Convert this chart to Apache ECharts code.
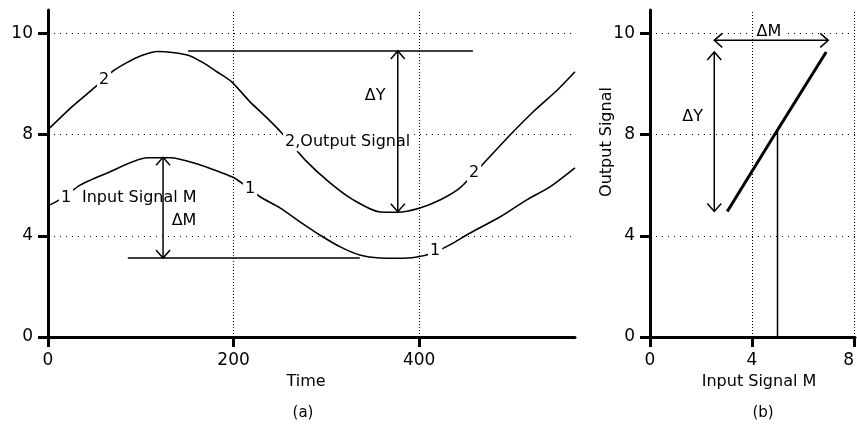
<!DOCTYPE html>
<html>
<head>
<meta charset="utf-8">
<title>Input and output signal</title>
<script src="https://cdn.jsdelivr.net/npm/echarts@6.0.0/dist/echarts.min.js"></script>
<style>
  html, body { margin: 0; padding: 0; background: #fff; }
  #chart { width: 857px; height: 426px; }
</style>
</head>
<body>
<div id="chart"></div>
<script>
// (a) signals over time
const timeIn = [2, 16, 35, 64, 107, 132, 164, 185, 200, 209, 229, 250, 272, 293, 315, 336, 358, 377, 396, 415, 433, 455, 487, 516, 541, 568];
const inputSignal = [5.22, 5.5, 6.01, 6.48, 7.08, 7.08, 6.8, 6.52, 6.3, 6.08, 5.53, 5.1, 4.54, 4.03, 3.56, 3.24, 3.12, 3.11, 3.15, 3.32, 3.64, 4.11, 4.74, 5.42, 5.93, 6.68];
const timeOut = [2, 26, 51, 69, 85, 101, 118, 150, 167, 182, 198, 218, 236, 252, 277, 304, 329, 358, 377, 401, 423, 444, 468, 498, 523, 549, 568];
const outputSignal = [8.13, 8.55, 8.94, 9.24, 9.42, 9.56, 9.64, 9.57, 9.42, 9.24, 9.04, 8.64, 8.33, 8.03, 7.0, 6.09, 5.42, 4.94, 4.93, 5.1, 5.42, 5.89, 6.8, 7.98, 8.45, 8.88, 9.24];

// (b) output against input
const inputB = [3.03, 4.89, 6.91];
const outputB = [4.96, 8.0, 9.63];
const operatingM = [5, 5];
const operatingY = [0, 8.09];

const xTicksA = [0, 200, 400];
const xTicksB = [0, 4, 8];
const yTicks = [0, 4, 8, 10];

// annotations: [x1, y1, x2, y2]
const refLinesA = [[151, 9.65, 458, 9.65], [86, 3.12, 336, 3.12]];
const arrowsA = [[377, 9.65, 377, 4.95], [124, 7.1, 124, 3.12]];
const arrowsB = [[2.52, 9.86, 6.99, 9.86], [2.52, 9.63, 2.52, 4.96]];
// text notes: [x, y, text, align]
const notesA = [
  [352.6, 8.76, 'ΔY', 'center'],
  [146.6, 4.58, 'ΔM', 'center'],
  [19.4, 5.51, '1', 'center'],
  [34.5, 5.51, 'Input Signal M', 'left'],
  [60.4, 9.08, '2', 'center'],
  [217.8, 5.85, '1', 'center'],
  [253.4, 7.73, '2,Output Signal', 'left'],
  [459.3, 6.5, '2', 'center'],
  [417.3, 3.4, '1', 'center']
];
const notesB = [
  [4.66, 10.03, 'ΔM', 'center'],
  [1.67, 8.35, 'ΔY', 'center']
];

const FONT = '"DejaVu Sans", sans-serif';

// the printed y ticks 0,4,8,10 are evenly spaced, so map values piecewise
function toAxis(v) {
  for (let i = 1; i < yTicks.length; i++) {
    if (v <= yTicks[i] || i === yTicks.length - 1) {
      return i - 1 + (v - yTicks[i - 1]) / (yTicks[i] - yTicks[i - 1]);
    }
  }
}
const yTickPos = yTicks.map(toAxis);

function axis(gridIndex, min, max, ticks, fmt, labelExtra, extra) {
  return Object.assign({
    type: 'value',
    gridIndex: gridIndex,
    min: min,
    max: max,
    axisLine: { onZero: false, lineStyle: { color: '#000', width: 3 } },
    axisTick: { customValues: ticks, length: 10, lineStyle: { color: '#000', width: 3 } },
    axisLabel: Object.assign({
      customValues: ticks, formatter: fmt, color: '#000',
      fontFamily: FONT, fontSize: 17, margin: 15
    }, labelExtra),
    splitLine: { show: false }
  }, extra);
}

const yFmt = function (v) {
  for (let i = 0; i < yTickPos.length; i++) {
    if (Math.abs(yTickPos[i] - v) < 1e-6) return String(yTicks[i]);
  }
  return '';
};

function gridLines(idx, xs, ys) {
  const dotted = function (dash) { return { type: dash, color: '#000', width: 1 }; };
  return {
    type: 'line', xAxisIndex: idx, yAxisIndex: idx, data: [], silent: true,
    markLine: {
      silent: true, z: 1, symbol: ['none', 'none'], label: { show: false }, animation: false,
      data: xs.map(x => ({ xAxis: x, lineStyle: dotted([1, 2]) }))
        .concat(ys.map(y => ({ yAxis: toAxis(y), lineStyle: dotted([1, 5]) })))
    }
  };
}

function line(idx, xs, ys, width, smooth) {
  return {
    type: 'line', xAxisIndex: idx, yAxisIndex: idx, z: 2,
    data: xs.map((x, i) => [x, toAxis(ys[i])]),
    smooth: smooth || false, symbol: 'none', silent: true,
    lineStyle: { color: '#000', width: width }
  };
}

function renderArrow(params, api) {
  const p1 = api.coord([api.value(0), api.value(1)]);
  const p2 = api.coord([api.value(2), api.value(3)]);
  const len = Math.hypot(p2[0] - p1[0], p2[1] - p1[1]);
  const ux = (p2[0] - p1[0]) / len, uy = (p2[1] - p1[1]) / len;
  const h = 8, w = 7;
  const head = function (tip, dx, dy) {
    const bx = tip[0] + dx * h, by = tip[1] + dy * h;
    return [[bx - dy * w, by + dx * w], tip, [bx + dy * w, by - dx * w]];
  };
  const st = { stroke: '#000', fill: null, lineWidth: 1.5 };
  return {
    type: 'group',
    children: [
      { type: 'line', shape: { x1: p1[0], y1: p1[1], x2: p2[0], y2: p2[1] }, style: st },
      { type: 'polyline', shape: { points: head(p1, ux, uy) }, style: st },
      { type: 'polyline', shape: { points: head(p2, -ux, -uy) }, style: st }
    ]
  };
}

function arrows(idx, list) {
  return {
    type: 'custom', xAxisIndex: idx, yAxisIndex: idx, z: 4, silent: true,
    renderItem: renderArrow,
    encode: { x: [0, 2], y: [1, 3] },
    data: list.map(a => [a[0], toAxis(a[1]), a[2], toAxis(a[3])])
  };
}

function notes(idx, list) {
  return {
    type: 'custom', xAxisIndex: idx, yAxisIndex: idx, z: 3, silent: true,
    renderItem: function (params, api) {
      const n = list[params.dataIndex];
      const p = api.coord([api.value(0), api.value(1)]);
      return {
        type: 'text', x: p[0], y: p[1],
        style: {
          text: n[2], align: n[3], textAlign: n[3], verticalAlign: 'middle',
          font: '16px ' + FONT, fill: '#000', backgroundColor: '#fff', padding: [2, 2]
        }
      };
    },
    data: list.map(n => [n[0], toAxis(n[1])])
  };
}

const nameStyle = function (pad) {
  return { color: '#000', fontFamily: FONT, fontSize: 16, padding: pad };
};

const chart = echarts.init(document.getElementById('chart'));
chart.setOption({
  animation: false,
  backgroundColor: '#fff',
  grid: [
    { left: 48, top: 10, width: 527, height: 327 },
    { left: 650, top: 10, width: 207, height: 327 }
  ],
  xAxis: [
    axis(0, 0, 568, xTicksA, v => String(v), {}, {
      interval: 200, name: 'Time', nameLocation: 'middle', nameGap: 31,
      nameTextStyle: nameStyle([0, 11, 0, 0])
    }),
    axis(1, 0, 8.04, xTicksB, v => String(v), { alignMaxLabel: 'right' }, {
      interval: 4, name: 'Input Signal M', nameLocation: 'middle', nameGap: 31,
      nameTextStyle: nameStyle([0, 0, 0, 13])
    })
  ],
  yAxis: [
    axis(0, 0, 3.23, yTickPos, yFmt, {}, { interval: 1 }),
    axis(1, 0, 3.23, yTickPos, yFmt, {}, { interval: 1 })
  ],
  graphic: [
    { type: 'text', x: 303, y: 413, style: { text: '(a)', align: 'center', textAlign: 'center', verticalAlign: 'middle', font: '15px ' + FONT, fill: '#000' } },
    { type: 'text', x: 763, y: 413, style: { text: '(b)', align: 'center', textAlign: 'center', verticalAlign: 'middle', font: '15px ' + FONT, fill: '#000' } },
    { type: 'text', x: 607, y: 142, rotation: Math.PI / 2, style: { text: 'Output Signal', align: 'center', textAlign: 'center', verticalAlign: 'middle', font: '16px ' + FONT, fill: '#000' } }
  ],
  series: [
    gridLines(0, [200, 400], [4, 8, 10]),
    gridLines(1, [4, 8], [4, 8, 10]),
    line(0, timeIn, inputSignal, 1.6, 0.25),
    line(0, timeOut, outputSignal, 1.6, 0.25),
    line(0, [refLinesA[0][0], refLinesA[0][2]], [refLinesA[0][1], refLinesA[0][3]], 1.5),
    line(0, [refLinesA[1][0], refLinesA[1][2]], [refLinesA[1][1], refLinesA[1][3]], 1.5),
    line(1, inputB, outputB, 3),
    line(1, operatingM, operatingY, 1.5),
    notes(0, notesA),
    notes(1, notesB),
    arrows(0, arrowsA),
    arrows(1, arrowsB)
  ]
});
</script>
</body>
</html>
